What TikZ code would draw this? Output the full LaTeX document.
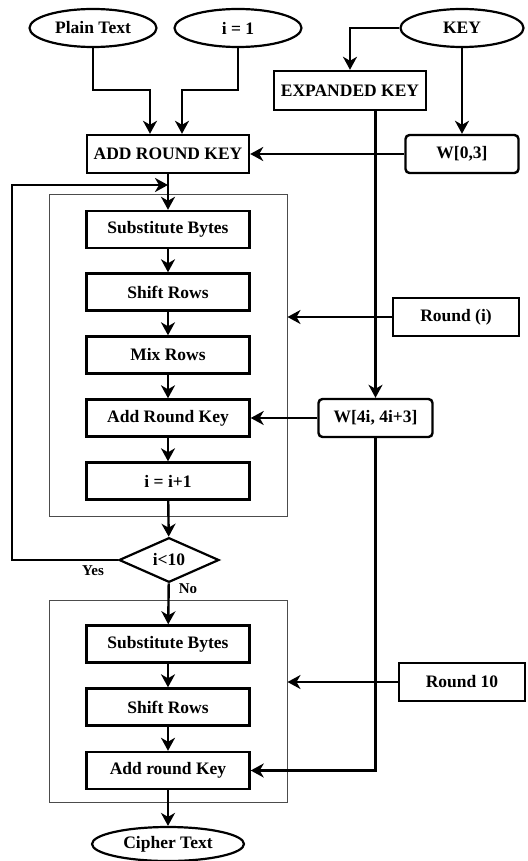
\documentclass[tikz,border=0pt]{standalone}
\usepackage{fontspec}
\setmainfont{Liberation Serif}
\usetikzlibrary{shapes.geometric}
\usetikzlibrary{arrows.meta}
\tikzset{>={Stealth[length=13pt,width=14pt,inset=4pt]}}
\tikzset{
  stepbox/.style={draw, line width=2.4pt, minimum width=163pt, minimum height=37pt, inner sep=0pt},
  keybox/.style={stepbox, rounded corners=4pt, minimum width=114pt},
  terminal/.style={draw, ellipse, line width=2.2pt, minimum width=127pt, minimum height=38pt, inner sep=0pt},
  decision/.style={draw, diamond, line width=2.2pt, minimum width=100pt, minimum height=44pt, inner sep=0pt},
  frame/.style={draw=black!70, line width=1pt, minimum width=238pt, inner sep=0pt},
  flow/.style={->, line width=2.4pt},
  tag/.style={font=\fontsize{15}{18}\selectfont\bfseries, inner sep=0pt}
}

\begin{document}
\begin{tikzpicture}[x=1pt, y=-1pt, font=\fontsize{17.5}{20}\selectfont\bfseries]
        \useasboundingbox (0,0) rectangle (527,861);
        % frames
        \node[frame, minimum height=322pt] (loop) at (168,355) {};
        \node[frame, minimum height=202pt] (last) at (168,701) {};
        % inputs
        \node[terminal] (plain) at (93,28) {Plain Text};
        \node[terminal] (one) at (238,28) {i = 1};
        \node[terminal, minimum width=123pt] (key) at (462,28) {KEY};
        \node[stepbox, minimum width=152pt, minimum height=39pt] (xkey) at (350,90.5) {EXPANDED KEY};
        \node[stepbox, minimum width=162pt, minimum height=38pt] (ark) at (168,154) {ADD ROUND KEY};
        \node[keybox, minimum width=113pt, minimum height=38pt] (w0) at (462,154) {W[0,3]};
        % rounds
        \node[stepbox] (sb1) at (168,229.5) {Substitute Bytes};
        \node[stepbox] (sr1) at (168,292) {Shift Rows};
        \node[stepbox] (mr1) at (168,355) {Mix Rows};
        \node[stepbox] (ark2) at (168,418) {Add Round Key};
        \node[stepbox] (inc) at (168,481) {i = i+1};
        \node[keybox, minimum height=38pt] (wi) at (375.5,418) {W[4i, 4i+3]};
        \node[stepbox, minimum width=126pt, minimum height=38pt] (rnd) at (456,317) {Round (i)};
        \node[decision] (test) at (169,560) {i<10};
        \node[tag] (yes) at (93,571) {Yes};
        \node[tag] (no) at (188,589) {No};
        % final round
        \node[stepbox] (sb2) at (168,644) {Substitute Bytes};
        \node[stepbox] (sr2) at (168,707) {Shift Rows};
        \node[stepbox] (ark3) at (168,770.5) {Add round Key};
        \node[stepbox, minimum width=126pt, minimum height=38pt] (rnd10) at (462,682) {Round 10};
        \node[terminal, minimum width=152pt, minimum height=34pt] (cipher) at (168,844) {Cipher Text};
        \coordinate (back) at (168,185);
        % lines
        \draw[flow] (plain) -- (93,90) -| ([xshift=-18pt]ark.north);
        \draw[flow] (one) -- (238,90) -| ([xshift=14pt]ark.north);
        \draw[flow] (key) -| (xkey);
        \draw[flow] (key) -- (w0);
        \draw[flow] (w0) -- (ark);
        \draw[flow] (xkey.south -| wi) -- (wi);
        \draw[flow] (wi) -- (ark2);
        \draw[flow] (wi) |- (ark3);
        \draw[flow] (rnd) -- (rnd -| loop.east);
        \draw[flow] (rnd10) -- (rnd10 -| last.east);
        \draw[flow] (ark) -- (sb1);
        \draw[flow] (sb1) -- (sr1);
        \draw[flow] (sr1) -- (mr1);
        \draw[flow] (mr1) -- (ark2);
        \draw[flow] (ark2) -- (inc);
        \draw[flow] (inc) -- (test);
        \draw[flow] (test) -| (12,185) -- (back);
        \draw[flow] (test) -- (sb2);
        \draw[flow] (sb2) -- (sr2);
        \draw[flow] (sr2) -- (ark3);
        \draw[flow] (ark3) -- (cipher);
      \end{tikzpicture}
\end{document}
